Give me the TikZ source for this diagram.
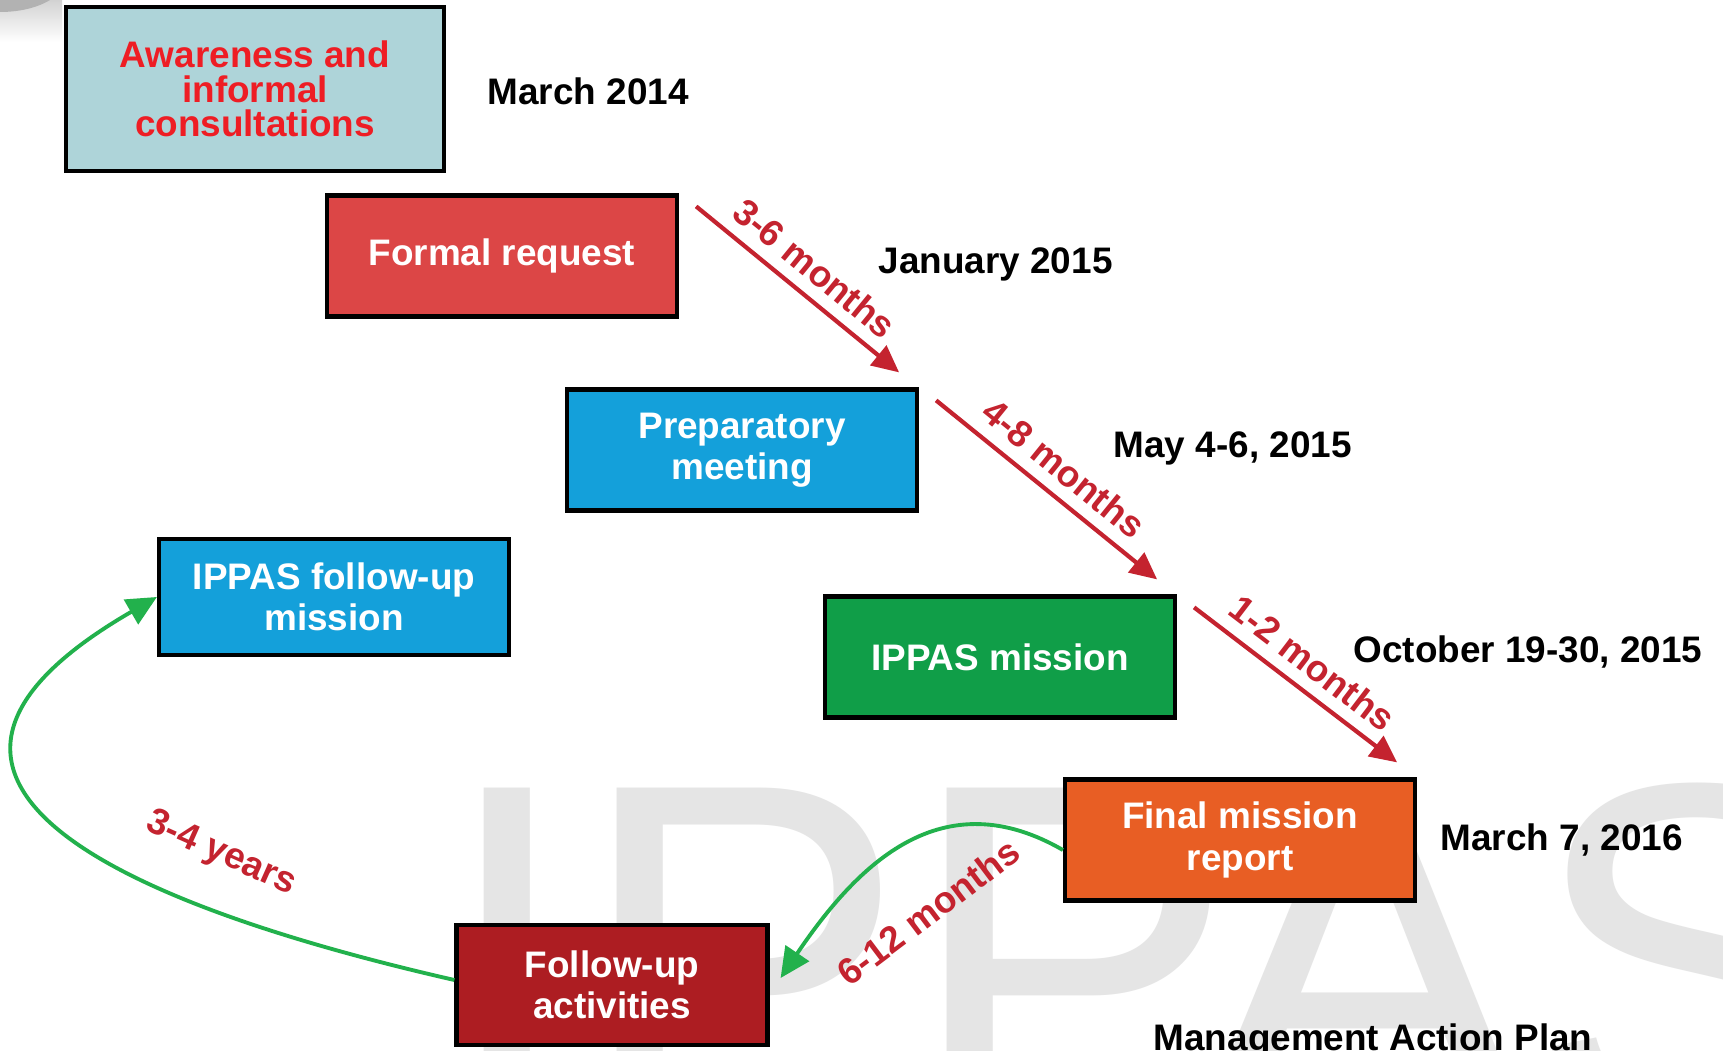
\documentclass[tikz,border=0pt]{standalone}
\usepackage{fontspec}
\setmainfont{Liberation Sans}
\usetikzlibrary{arrows.meta}

\definecolor{awarefill}{HTML}{AED4D9}
\definecolor{awarered}{HTML}{EE1D24}
\definecolor{formalred}{HTML}{DC4646}
\definecolor{ippasblue}{HTML}{14A0DA}
\definecolor{ippasgreen}{HTML}{109E48}
\definecolor{reportorange}{HTML}{E85E24}
\definecolor{followred}{HTML}{AD1D22}
\definecolor{arrowred}{HTML}{C4232F}
\definecolor{arrowgreen}{HTML}{22B14C}
\definecolor{wmgray}{HTML}{E5E5E5}

\begin{document}
\begin{tikzpicture}
		\tikzset{vertex/.style = {draw, line width=1.2pt, minimum width=3.50cm, minimum height=1.21cm, align=center, text=white, font=\bfseries\fontsize{10.5}{11.8}\selectfont}}
		\tikzset{date/.style = {anchor=base west, inner sep=0pt, font=\bfseries\fontsize{10.5}{12}\selectfont}}
		\tikzset{lbl/.style = {text=arrowred, font=\bfseries\fontsize{10.5}{12}\selectfont}}
		\tikzset{edge/.style = {-{Triangle[length=0.27cm,width=0.25cm]}, line width=1.2pt, draw=arrowred}}
		
		\path[use as bounding box, fill=white] (0,0) rectangle (17.23,-10.51);
		\shade[top color=gray!35, bottom color=white] (0,0) rectangle (0.62,-0.42);
		\fill[gray!60] (0,0.2) ellipse [x radius=0.64cm, y radius=0.32cm];
		\node[anchor=base west, inner sep=0pt, text=wmgray, font=\fontsize{140.8}{140.8}\selectfont] (0) at (4.38,-11.28) {IPPAS};
		
		\node[vertex, fill=awarefill, text=awarered, minimum width=3.78cm, minimum height=1.64cm,
		      font=\bfseries\fontsize{10.5}{9.8}\selectfont]
		                (1) at ( 2.55, -0.89) {Awareness and\\informal\\consultations};
		\node[vertex, fill=formalred]    (2) at ( 5.02, -2.56) {Formal request};
		\node[vertex, fill=ippasblue]    (3) at ( 7.42, -4.50) {Preparatory\\meeting};
		\node[vertex, fill=ippasblue, minimum height=1.16cm]
		                                 (4) at ( 3.34, -5.97) {IPPAS follow-up\\mission};
		\node[vertex, fill=ippasgreen]   (5) at (10.00, -6.57) {IPPAS mission};
		\node[vertex, fill=reportorange] (6) at (12.40, -8.40) {Final mission\\report};
		\node[vertex, fill=followred, minimum width=3.11cm, minimum height=1.20cm]
		                                 (7) at ( 6.12, -9.85) {Follow-up\\activities};
		
		\node[date] (14) at ( 4.87,  -1.05) {March 2014};
		\node[date] (15) at ( 8.78,  -2.73) {January 2015};
		\node[date] (16) at (11.13,  -4.57) {May 4-6, 2015};
		\node[date] (17) at (13.53,  -6.62) {October 19-30, 2015};
		\node[date] (18) at (14.40,  -8.50) {March 7, 2016};
		\node[date] (19) at (11.53, -10.50) {Management Action Plan};
		
		\draw[edge] ([shift={(0.17,-0.13)}]2.north east) -- node[lbl, sloped, above] {3-6 months} ([shift={(-0.20,0.15)}]3.north east);
		\draw[edge] ([shift={(0.17,-0.13)}]3.north east) -- node[lbl, sloped, above] {4-8 months} ([shift={(-0.20,0.15)}]5.north east);
		\draw[edge] ([shift={(0.17,-0.13)}]5.north east) -- node[lbl, sloped, above] {1-2 months} ([shift={(-0.20,0.15)}]6.north east);
		
		\tikzset{edge/.style = {-{Triangle[length=0.30cm,width=0.28cm]}, line width=1.1pt, draw=arrowgreen}}
		\draw[edge] ([yshift=-0.10cm]6.west) to[out=150, in=56, looseness=1.15] ([shift={(0.11,0.07)}]7.east);
		\draw[edge] ([yshift=0.05cm]7.west) .. controls (0.82,-8.95) and (-1.42,-7.70) .. (4.west);
		
		\node[lbl, rotate=37]  (20) at (9.28, -9.12) {6-12 months};
		\node[lbl, rotate=-24] (21) at (2.21, -8.54) {3-4 years};
\end{tikzpicture}
\end{document}
